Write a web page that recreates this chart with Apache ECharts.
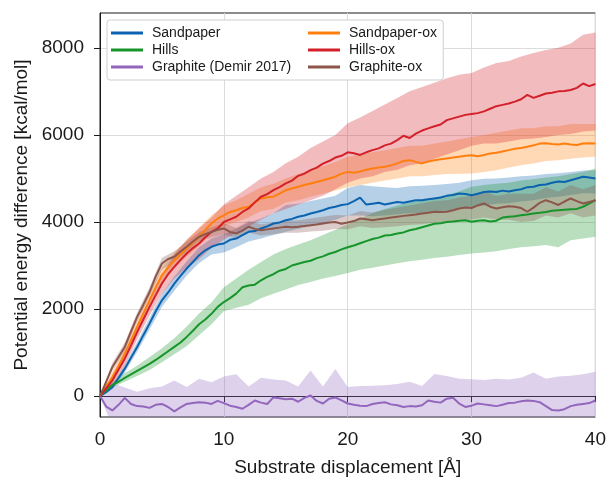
<!DOCTYPE html>
<html>
<head>
<meta charset="utf-8">
<script src="https://cdn.jsdelivr.net/npm/echarts@6/dist/echarts.min.js"></script>
<style>html,body{margin:0;padding:0;background:#fff;}#c{width:609px;height:482px;}</style>
</head>
<body>
<div id="c"></div>
<script>
// x positions of the mean curves (Å)
const X = [0,0.5,1,1.5,2,2.5,3,3.5,4,4.5,5,5.5,6,6.5,7,7.5,8,8.5,9,9.5,10,10.5,11,11.5,12,12.5,13,13.5,14,14.5,15,15.5,16,16.5,17,17.5,18,18.5,19,19.5,20,20.5,21,21.5,22,22.5,23,23.5,24,24.5,25,25.5,26,26.5,27,27.5,28,28.5,29,29.5,30,30.5,31,31.5,32,32.5,33,33.5,34,34.5,35,35.5,36,36.5,37,37.5,38,38.5,39,39.5,40];
// x positions of the shaded bands (Å)
const XB = [0,1,2,3,4,5,6,7,8,9,10,11,12,13,14,15,16,17,18,19,20,21,22,23,24,25,26,27,28,29,30,31,32,33,34,35,36,37,38,39,40];

const sandpaper = [0,90,207,420,630,880,1130,1400,1665,1950,2200,2380,2585,2760,2930,3080,3237,3350,3430,3480,3505,3590,3620,3700,3775,3790,3850,3900,3965,3990,4040,4070,4120,4150,4195,4230,4270,4320,4350,4390,4410,4480,4560,4400,4420,4440,4400,4430,4460,4440,4470,4500,4500,4520,4540,4560,4600,4620,4655,4640,4615,4650,4690,4700,4690,4720,4700,4730,4750,4800,4810,4850,4860,4900,4930,4920,4960,5000,5040,5020,5000];
const sandpaperLo = [0,150,540,1020,1530,2050,2420,2770,3060,3250,3300,3420,3550,3620,3700,3775,3840,3900,3970,4050,4150,4150,4130,4150,4180,4200,4200,4230,4260,4300,4350,4380,4420,4430,4470,4500,4550,4580,4620,4660,4655];
const sandpaperHi = [0,260,720,1240,1800,2350,2750,3100,3420,3620,3720,3850,3980,4080,4200,4390,4420,4480,4540,4600,4780,4850,4820,4800,4780,4820,4830,4850,4870,4900,4960,4990,5000,5020,5050,5070,5100,5120,5150,5180,5190];

const hills = [0,130,260,330,420,500,580,660,740,830,930,1030,1130,1230,1360,1500,1650,1760,1890,2050,2160,2250,2355,2500,2540,2560,2660,2740,2800,2880,2920,3000,3040,3080,3110,3170,3210,3270,3310,3370,3420,3460,3510,3560,3610,3640,3690,3700,3735,3760,3810,3840,3880,3920,3960,3970,4000,4010,4030,4040,4005,4030,4040,4010,4030,4100,4120,4130,4155,4170,4195,4210,4230,4260,4270,4280,4290,4300,4350,4420,4500];
const hillsLo = [0,200,330,460,600,780,960,1150,1400,1650,1950,2030,2100,2250,2350,2450,2550,2620,2700,2760,2830,2900,2950,3000,3050,3100,3130,3170,3200,3240,3275,3300,3330,3380,3420,3440,3470,3420,3580,3620,3660];
const hillsHi = [0,330,530,700,900,1100,1330,1600,1900,2150,2500,2700,2900,3080,3250,3380,3480,3580,3700,3820,3950,4080,4200,4300,4380,4450,4500,4560,4620,4700,4810,4850,4880,4900,4950,4980,5020,5050,5100,5150,5230];

const graphite = [0,-240,-330,-200,-40,-180,-230,-240,-270,-200,-180,-250,-350,-260,-180,-160,-140,-150,-180,-110,-160,-220,-250,-290,-200,-100,-150,-180,-30,-50,-70,-60,-130,-40,15,-110,-170,-60,-30,-100,-170,-200,-220,-230,-180,-160,-140,-190,-210,-250,-230,-240,-210,-100,-130,-150,-60,-40,-170,-250,-220,-170,-190,-210,-230,-200,-160,-150,-120,-100,-110,-140,-230,-320,-330,-300,-230,-200,-180,-160,-100];
const graphiteLo = [0,-700,-820,-780,-850,-800,-880,-760,-820,-790,-860,-810,-770,-840,-800,-830,-790,-850,-810,-780,-820,-860,-800,-840,-790,-830,-810,-770,-850,-800,-820,-840,-790,-810,-860,-800,-830,-850,-790,-820,-800];
const graphiteHi = [0,300,200,100,180,220,360,210,400,320,450,500,220,420,380,360,220,590,220,620,210,230,240,250,280,330,230,510,460,400,390,370,400,380,420,540,400,450,470,500,560];

const sandpaperOx = [0,220,440,700,975,1280,1590,1900,2200,2500,2780,2950,3120,3260,3390,3530,3660,3820,3965,4080,4150,4230,4270,4320,4350,4450,4540,4570,4580,4650,4730,4770,4810,4850,4885,4920,4960,5000,5040,5110,5150,5130,5160,5200,5230,5250,5270,5300,5345,5400,5420,5380,5345,5390,5420,5440,5460,5480,5500,5520,5530,5510,5540,5575,5590,5620,5650,5680,5700,5730,5760,5800,5810,5790,5780,5800,5780,5770,5800,5810,5805];
const sandpaperOxLo = [0,330,850,1450,2050,2600,2950,3200,3450,3750,3900,4000,4100,4250,4300,4450,4500,4580,4650,4720,4800,4850,4900,4950,5000,5050,5050,5080,5100,5110,5115,5150,5190,5250,5300,5345,5400,5420,5450,5480,5500];
const sandpaperOxHi = [0,560,1100,1750,2380,2950,3300,3580,3880,4150,4380,4500,4650,4800,4880,5000,5100,5200,5280,5380,5500,5550,5600,5650,5700,5750,5750,5800,5850,5900,5950,6000,6050,6100,6150,6150,6200,6200,6250,6250,6250];

const hillsOx = [0,180,360,610,860,1160,1470,1760,2050,2320,2585,2800,2970,3130,3275,3400,3505,3650,3770,3850,4000,4060,4120,4230,4310,4450,4580,4640,4730,4800,4885,4950,5060,5110,5190,5250,5340,5400,5480,5520,5600,5580,5540,5600,5650,5690,5760,5800,5880,5980,5930,6030,6100,6150,6200,6240,6340,6380,6420,6460,6480,6500,6540,6600,6660,6690,6720,6765,6820,6920,6850,6900,6950,6970,7000,7010,7030,7080,7180,7120,7170];
const hillsOxLo = [0,250,700,1300,1850,2350,2700,2950,3150,3400,3600,3750,3900,4050,4200,4300,4400,4500,4600,4750,4900,5000,5050,5150,5200,5300,5350,5450,5550,5650,5750,5800,5800,5850,5900,5920,5950,6000,6020,6080,6100];
const hillsOxHi = [0,450,1000,1650,2250,2800,3250,3600,3850,4100,4400,4600,4800,5000,5150,5350,5500,5700,5850,6000,6270,6400,6550,6700,6850,7000,7100,7200,7300,7380,7420,7550,7650,7700,7800,7880,7950,8000,8100,8300,8350];

const graphiteOx = [0,330,670,900,1130,1480,1820,2100,2390,2750,3045,3150,3200,3320,3430,3550,3660,3720,3770,3820,3850,3770,3735,3800,3890,3840,3810,3830,3850,3870,3890,3880,3890,3910,3925,3940,3965,3990,4000,3960,3990,4020,4080,4060,4040,4060,4080,4100,4120,4140,4155,4170,4195,4210,4235,4230,4235,4270,4310,4330,4320,4380,4425,4350,4310,4340,4360,4350,4320,4235,4330,4440,4500,4450,4390,4470,4540,4480,4425,4460,4500];
const graphiteOxLo = [0,580,1030,1720,2280,2900,3080,3320,3560,3650,3720,3620,3760,3690,3720,3750,3750,3780,3800,3840,3830,3900,3860,3880,3900,3930,3950,3980,3990,4050,4050,4100,4050,4050,4000,4020,4150,4100,4200,4100,4150];
const graphiteOxHi = [0,760,1230,1920,2500,3180,3330,3550,3770,3880,3970,3860,4020,3950,3980,4030,4040,4080,4120,4160,4150,4250,4220,4280,4330,4380,4430,4480,4500,4560,4600,4700,4600,4650,4650,4650,4800,4700,4850,4750,4850];

const yTicks = [0, 2000, 4000, 6000, 8000];
const xTicks = [0, 10, 20, 30, 40];

const SERIES = [
  {name: 'Sandpaper', color: '#0b63b0', mean: sandpaper, lo: sandpaperLo, hi: sandpaperHi},
  {name: 'Hills', color: '#17952a', mean: hills, lo: hillsLo, hi: hillsHi},
  {name: 'Graphite (Demir 2017)', color: '#9366bd', mean: graphite, lo: graphiteLo, hi: graphiteHi},
  {name: 'Sandpaper-ox', color: '#ff7f0e', mean: sandpaperOx, lo: sandpaperOxLo, hi: sandpaperOxHi},
  {name: 'Hills-ox', color: '#d3202a', mean: hillsOx, lo: hillsOxLo, hi: hillsOxHi},
  {name: 'Graphite-ox', color: '#8c564b', mean: graphiteOx, lo: graphiteOxLo, hi: graphiteOxHi}
];

const series = [];
SERIES.forEach((s, i) => {
  const bandData = XB.map((x, k) => [x, s.lo[k], s.hi[k]]);
  series.push({
    type: 'custom', name: '_band' + i, silent: true, z: 1, clip: true,
    data: bandData,
    encode: {x: 0, y: [1, 2]},
    renderItem: function (params, api) {
      if (params.dataIndex !== 0) return null;
      const pts = [];
      for (let k = 0; k < bandData.length; k++) pts.push(api.coord([bandData[k][0], bandData[k][2]]));
      for (let k = bandData.length - 1; k >= 0; k--) pts.push(api.coord([bandData[k][0], bandData[k][1]]));
      return {
        type: 'polygon',
        shape: {points: pts},
        style: {fill: s.color, opacity: 0.3}
      };
    }
  });
});
SERIES.forEach((s) => {
  series.push({
    type: 'line', name: s.name, color: s.color,
    data: X.map((x, k) => [x, s.mean[k]]),
    symbol: 'none', lineStyle: {width: 2, color: s.color}, z: 3
  });
});

const FONT = '"Liberation Sans", Arial, Helvetica, sans-serif';
const legendCommon = {
  orient: 'vertical', icon: 'rect', itemWidth: 32, itemHeight: 3, itemGap: 3,
  textStyle: {fontSize: 14, color: '#1a1a1a', fontFamily: FONT, padding: [0, 0, 0, 4]},
  selectedMode: false
};

const chart = echarts.init(document.getElementById('c'), null, {renderer: 'canvas'});
chart.setOption({
  animation: false,
  backgroundColor: '#ffffff',
  textStyle: {fontFamily: FONT},
  grid: {left: 100, right: 11, top: 13, bottom: 65, show: true, borderColor: '#1a1a1a', borderWidth: 1, containLabel: false},
  legend: [
    Object.assign({}, legendCommon, {
      data: SERIES.slice(0, 3).map(s => s.name),
      left: 107, top: 20, padding: [6, 152, 6, 4],
      backgroundColor: '#ffffff', borderColor: '#cfcfcf', borderWidth: 1, borderRadius: 3, z: 5
    }),
    Object.assign({}, legendCommon, {
      data: SERIES.slice(3).map(s => s.name),
      left: 308, top: 26, padding: 0, z: 6
    })
  ],
  xAxis: {
    type: 'value', min: 0, max: 40, interval: 10,
    name: 'Substrate displacement [Å]', nameLocation: 'middle', nameGap: 41,
    nameTextStyle: {fontSize: 19, color: '#1a1a1a', fontFamily: FONT},
    axisLine: {show: true, lineStyle: {color: '#1a1a1a', width: 1}},
    axisTick: {show: true, length: 6, lineStyle: {color: '#1a1a1a'}, customValues: xTicks},
    axisLabel: {fontSize: 19, color: '#1a1a1a', margin: 13, fontFamily: FONT, customValues: xTicks},
    splitLine: {show: true, lineStyle: {color: '#dcdcdc', width: 1}}
  },
  yAxis: {
    type: 'value', min: -480, max: 8800,
    name: 'Potential energy difference [kcal/mol]', nameLocation: 'middle', nameGap: 66,
    nameTextStyle: {fontSize: 19, color: '#1a1a1a', fontFamily: FONT},
    axisLine: {show: true, lineStyle: {color: '#1a1a1a', width: 1}},
    axisTick: {show: true, length: 6, lineStyle: {color: '#1a1a1a'}, customValues: yTicks},
    axisLabel: {fontSize: 19, color: '#1a1a1a', margin: 16, fontFamily: FONT, customValues: yTicks, formatter: v => String(v)},
    splitLine: {show: true, lineStyle: {color: '#dcdcdc', width: 1}}
  },
  series: series
});
</script>
</body>
</html>
